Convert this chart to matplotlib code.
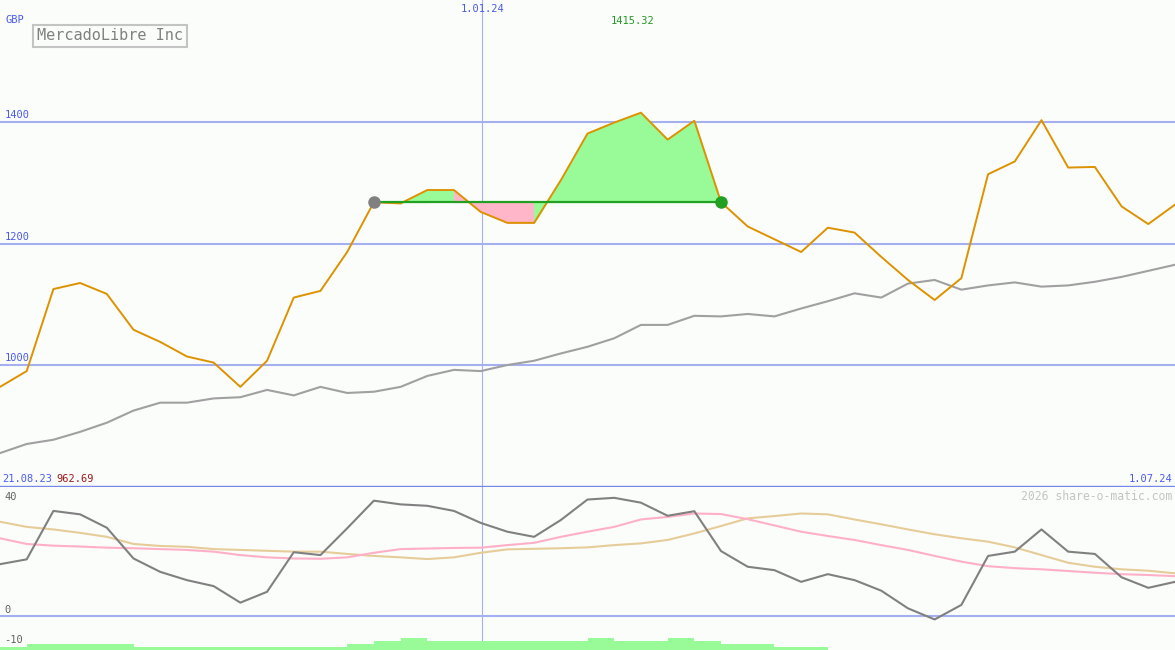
import numpy as np
import matplotlib.pyplot as plt

# weekly closing prices (GBP), 21.08.23 .. 1.07.24
price = [964, 990, 1125, 1135, 1117, 1058, 1038, 1014, 1004, 964,
         1007, 1111, 1122, 1186, 1268, 1266, 1288, 1288, 1252, 1234,
         1234, 1304, 1381, 1399, 1415.32, 1371, 1402, 1268, 1228, 1207,
         1186, 1226, 1218, 1178, 1140, 1107, 1143, 1314, 1335, 1403,
         1325, 1326, 1261, 1232, 1264]
# moving average
avg = [855, 870, 877, 890, 905, 925, 938, 938, 945, 947,
       959, 950, 964, 954, 956, 964, 982, 992, 990, 1000,
       1007, 1019, 1030, 1044, 1066, 1066, 1081, 1080, 1084, 1080,
       1093, 1105, 1118, 1111, 1134, 1140, 1124, 1131, 1136, 1129,
       1131, 1137, 1145, 1155, 1165]
# oscillator panel
osc = [18.2, 19.9, 36.9, 35.7, 31.0, 20.2, 15.5, 12.6, 10.5, 4.7,
       8.5, 22.4, 21.4, 30.8, 40.5, 39.2, 38.7, 36.9, 32.7, 29.6,
       27.8, 33.7, 40.9, 41.5, 39.8, 35.2, 36.8, 22.8, 17.3, 16.1,
       12.0, 14.7, 12.6, 8.9, 2.7, -1.2, 3.9, 21.1, 22.6, 30.4,
       22.6, 21.8, 13.6, 9.9, 12.0]
osc_pink = [27.3, 25.3, 24.7, 24.4, 24.0, 23.8, 23.5, 23.2, 22.6, 21.4,
            20.6, 20.2, 20.1, 20.6, 22.2, 23.5, 23.7, 23.9, 24.0, 24.9,
            25.7, 27.8, 29.6, 31.3, 33.9, 34.8, 36.0, 35.8, 34.0, 31.8,
            29.6, 28.1, 26.7, 24.9, 23.2, 21.1, 19.1, 17.5, 16.8, 16.4,
            15.8, 15.2, 14.7, 14.4, 14.0]
osc_tan = [33.1, 31.3, 30.4, 29.2, 27.8, 25.3, 24.6, 24.3, 23.5, 23.2,
           22.9, 22.6, 22.6, 21.8, 21.1, 20.6, 20.0, 20.6, 22.2, 23.4,
           23.6, 23.8, 24.1, 24.9, 25.5, 26.7, 29.0, 31.6, 34.3, 35.1,
           36.0, 35.7, 33.9, 32.2, 30.4, 28.7, 27.3, 26.1, 24.1, 21.4,
           18.7, 17.3, 16.4, 15.9, 15.0]
volume = [1, 2, 2, 2, 2, 1, 1, 1, 1, 1, 1, 1, 1, 2, 3, 4, 3, 3, 3, 3,
          3, 3, 4, 3, 3, 4, 3, 2, 2, 1, 1, 0, 0, 0, 0, 0, 0, 0, 0, 0,
          0, 0, 0, 0]

buy_start, buy_end, buy_price = 14, 27, 1268
jan_pos = 18.05

bg = '#fbfdfb'
grid = '#a4b0f0'
blue = '#4a5af0'
mono = 'DejaVu Sans Mono'

x = np.arange(len(price))

fig = plt.figure(figsize=(11.75, 6.5), dpi=100)
fig.patch.set_facecolor(bg)
ax = fig.add_axes([0, 163 / 650, 1, 487 / 650])
ax2 = fig.add_axes([0, 0, 1, 163 / 650])
for a in (ax, ax2):
    a.set_facecolor(bg)
    a.set_xticks([])
    a.set_yticks([])
    for s in a.spines.values():
        s.set_visible(False)
    a.set_xlim(0, len(price) - 1)
    a.axvline(jan_pos, color=grid, lw=0.8, zorder=1)

# main panel
ax.set_ylim(799.2, 1600.8)
for v in (1000, 1200, 1400):
    ax.axhline(v, color=grid, lw=1.5, zorder=1)
    ax.text(0.004, v + 3, str(v), transform=ax.get_yaxis_transform(),
            va='bottom', ha='left', fontsize=7.5, family=mono, color=blue)
ax.spines['bottom'].set_visible(True)
ax.spines['bottom'].set_color('#7585e8')
ax.spines['bottom'].set_linewidth(1.7)

# profit / loss areas relative to the buy price
for i in range(buy_start, buy_end):
    col = '#98fb98' if price[i + 1] >= buy_price else '#ffb6c8'
    ax.fill_between(x[i:i + 2], price[i:i + 2], buy_price,
                    facecolor=col, edgecolor=col, lw=0.6, zorder=2)

ax.plot(x, avg, color='#a0a0a0', lw=1.5, zorder=3)
ax.plot(x, price, color='#dd9200', lw=1.4, zorder=4)
ax.plot([buy_start, buy_end], [buy_price, buy_price], color='#22a022', lw=1.6, zorder=5)
ax.plot(buy_start, buy_price, 'o', ms=8, color='#808080', zorder=6)
ax.plot(buy_end, buy_price, 'o', ms=8, color='#22a022', zorder=6)

# bottom panel
ax2.set_ylim(-11.93, 45.3)
ax2.axhline(0, color=grid, lw=1.5, zorder=1)
ax2.plot(x, osc_tan, color='#e6cc98', lw=1.5, zorder=2)
ax2.plot(x, osc_pink, color='#ffb0c8', lw=1.5, zorder=2)
ax2.plot(x, osc, color='#808080', lw=1.5, zorder=3)
for v, s in ((40, '40'), (0, '0'), (-10.5, '-10')):
    ax2.text(0.004, v + 0.2, s, transform=ax2.get_yaxis_transform(),
             va='bottom', ha='left', fontsize=7.5, family=mono, color='#606060', zorder=5)

axv = ax2.twinx()
axv.set_ylim(0, 163 / 3)
axv.set_yticks([])
for s in axv.spines.values():
    s.set_visible(False)
axv.bar(x[:-1], volume, width=1, align='edge', color='#98fb98', lw=0, zorder=1)


def ftext(px, py, s, **kw):
    kw.setdefault('fontsize', 7.5)
    kw.setdefault('family', mono)
    fig.text(px / 1175, 1 - py / 650, s, va='center', **kw)


ftext(5, 20, 'GBP', color=blue)
ftext(483, 9, '1.01.24', color=blue, ha='center')
ftext(633, 21, '1415.32', color='#229922', ha='center')
ftext(37, 36, 'MercadoLibre Inc', color='#808080', fontsize=11,
      bbox=dict(boxstyle='square,pad=0.25', fc=bg, ec='#c4c4c4', lw=1.5))
ftext(2, 479, '21.08.23', color=blue)
ftext(56, 479, '962.69', color='#a01818')
ftext(1172, 479, '1.07.24', color=blue, ha='right')
ftext(1172, 496, '2026 share-o-matic.com', color='#c4c4c4', ha='right', fontsize=8.3)

fig.savefig('out.png', dpi=100, facecolor=bg)
